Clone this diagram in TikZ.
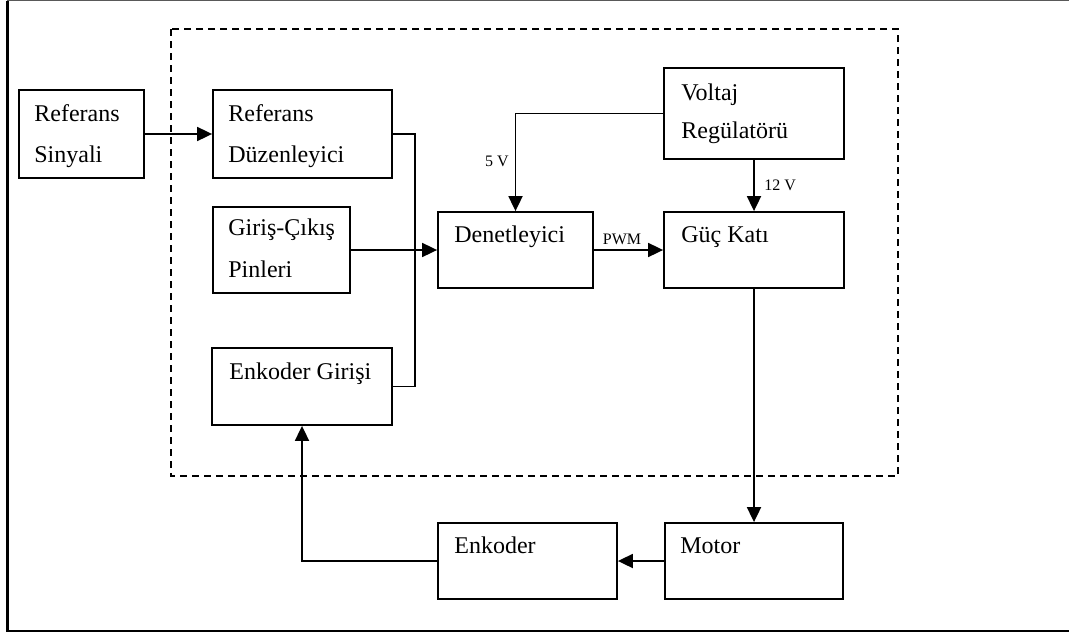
\documentclass[tikz,border=0pt]{standalone}
\usepackage{fontspec}
\setmainfont{Liberation Serif}
\usetikzlibrary{arrows.meta}

\tikzset{
  blk/.style={draw=black, line width=0.9pt, rectangle, inner sep=0pt, anchor=center},
  btxt/.style={anchor=base west, inner sep=0pt, font=\fontsize{12}{14}\selectfont},
  small/.style={inner sep=0pt, font=\fontsize{8}{9}\selectfont},
  wire/.style={line width=0.9pt},
  arr/.style={wire, -{Triangle[length=7.5pt, width=7pt]}},
  frame/.style={line width=0.9pt, dashed, dash pattern=on 3.5pt off 2.5pt}
}

% box from corner (x1,y1) to (x2,y2), pixel units
\newcommand{\mkbox}[5]{%
  \node[blk, minimum width={(#4-#2)*0.5pt}, minimum height={(#5-#3)*0.5pt}]
    (#1) at ({(#2+#4)/2},{(#3+#5)/2}) {};}

\begin{document}
\begin{tikzpicture}[x=0.5pt, y=-0.5pt]
  \useasboundingbox (0,0) rectangle (1069,637);

  % outer frame
  \draw[line width=0.8pt, draw=black!65] (7,0.6) -- (1069,0.6);
  \draw[line width=1.2pt] (7.5,0.6) -- (7.5,631) -- (1069,631);

  % controller boundary
  \draw[frame] (171,29) rectangle (898,476);

  % blocks
  \mkbox{refsig}{19}{90}{144}{178}
  \mkbox{refduz}{213}{90}{392}{178}
  \mkbox{gcp}{213}{207}{350}{293}
  \mkbox{encin}{212}{348}{392}{425}
  \mkbox{den}{438}{212}{593}{288}
  \mkbox{volt}{664}{68}{844}{159}
  \mkbox{guc}{664}{212}{844}{288}
  \mkbox{enc}{438}{523}{617}{599}
  \mkbox{mot}{665}{523}{843}{599}

  % block texts
  \node[btxt] (refsig1) at (34,121) {Referans};
  \node[btxt] (refsig2) at (34,162) {Sinyali};
  \node[btxt] (refduz1) at (228,121) {Referans};
  \node[btxt] (refduz2) at (228,162) {Düzenleyici};
  \node[btxt] (gcp1) at (228,235) {Giriş-Çıkış};
  \node[btxt] (gcp2) at (228,277) {Pinleri};
  \node[btxt] (encin1) at (229,379) {Enkoder Girişi};
  \node[btxt] (den1) at (454,242) {Denetleyici};
  \node[btxt] (volt1) at (681,100) {Voltaj};
  \node[btxt] (volt2) at (681,138) {Regülatörü};
  \node[btxt] (guc1) at (681,242) {Güç Katı};
  \node[btxt] (enc1) at (454,553) {Enkoder};
  \node[btxt] (mot1) at (680,553) {Motor};

  % signal bus
  \coordinate (busx) at (415,0);
  \draw[arr] (refsig.east) -- (refduz.west);
  \draw[wire] (refduz.east) -- (refduz.east -| busx) -- (encin.east -| busx) -- (encin.east);
  \draw[arr] (gcp.east) -- (den.west);

  % controller to power stage
  \draw[arr] (den.east) -- (guc.west);
  \node[small, anchor=base] (pwm) at (622,244) {PWM};

  % supply lines
  \draw[arr] (volt.west) -| (den.north);
  \node[small, anchor=base east] (v5) at (509,166) {5 V};
  \draw[arr] (volt.south) -- (guc.north);
  \node[small, anchor=base west] (v12) at (764,190) {12 V};

  % plant and feedback
  \draw[arr] (guc.south) -- (guc.south |- mot.north);
  \draw[arr] (mot.west) -- (enc.east);
  \draw[arr] (enc.west) -| (encin.south);
\end{tikzpicture}
\end{document}
